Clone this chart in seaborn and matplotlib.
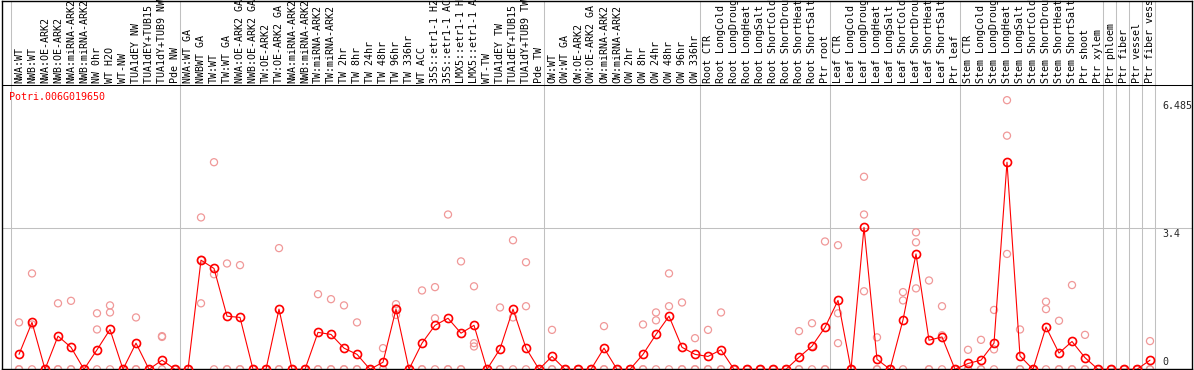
import seaborn as sns
import matplotlib.pyplot as plt
import pandas as pd
import numpy as np

# sample names, in plotting order
samples = [
    "NWA:WT", "NWB:WT", "NWA:OE-ARK2", "NWB:OE-ARK2", "NWA:miRNA-ARK2", "NWB:miRNA-ARK2",
    "NW 0hr", "WT H2O", "WT-NW", "TUA1dEY NW", "TUA1dEY+TUB15 NW", "TUA1dY+TUB9 NW", "Pde NW",
    "NWA:WT GA", "NWBWT GA", "TW:WT", "TW:WT GA", "NWA:OE-ARK2 GA", "NWB:OE-ARK2 GA",
    "TW:OE-ARK2", "TW:OE-ARK2 GA", "NWA:miRNA-ARK2", "NWB:miRNA-ARK2", "TW:miRNA-ARK2",
    "TW:miRNA-ARK2", "TW 2hr", "TW 8hr", "TW 24hr", "TW 48hr", "TW 96hr", "TW 336hr", "WT ACC",
    "35S::etr1-1 H2O", "35S::etr1-1 ACC", "LMX5::etr1-1 H2O", "LMX5::etr1-1 ACC", "WT-TW",
    "TUA1dEY TW", "TUA1dEY+TUB15 TW", "TUA1dY+TUB9 TW", "Pde TW",
    "OW:WT", "OW:WT GA", "OW:OE-ARK2", "OW:OE-ARK2 GA", "OW:miRNA-ARK2", "OW:miRNA-ARK2",
    "OW 2hr", "OW 8hr", "OW 24hr", "OW 48hr", "OW 96hr", "OW 336hr",
    "Root CTR", "Root LongCold", "Root LongDrought", "Root LongHeat", "Root LongSalt",
    "Root ShortCold", "Root ShortDrought", "Root ShortHeat", "Root ShortSalt", "Ptr root",
    "Leaf CTR", "Leaf LongCold", "Leaf LongDrought", "Leaf LongHeat", "Leaf LongSalt",
    "Leaf ShortCold", "Leaf ShortDrought", "Leaf ShortHeat", "Leaf ShortSalt", "Ptr leaf",
    "Stem CTR", "Stem LongCold", "Stem LongDrought", "Stem LongHeat", "Stem LongSalt",
    "Stem ShortCold", "Stem ShortDrought", "Stem ShortHeat", "Stem ShortSalt", "Ptr shoot",
    "Ptr xylem", "Ptr phloem", "Ptr fiber", "Ptr vessel", "Ptr fiber vessel",
]
# index of first sample of each group (plus the end)
group_starts = [0, 13, 41, 53, 63, 73, 84, 85, 86, 87, 88]

means = [
    0.36, 1.13, 0, 0.80, 0.53, 0, 0.47, 0.96, 0, 0.63, 0, 0.22, 0,
    0, 2.63, 2.43, 1.28, 1.25, 0, 0, 1.45, 0, 0, 0.89, 0.84, 0.51, 0.36, 0, 0.17,
    1.45, 0, 0.63, 1.06, 1.23, 0.87, 1.06, 0, 0.49, 1.45, 0.51, 0,
    0.31, 0, 0, 0, 0.51, 0, 0, 0.36, 0.84, 1.28, 0.53, 0.36,
    0.31, 0.47, 0, 0, 0, 0, 0, 0.29, 0.56, 1.01,
    1.66, 0, 3.42, 0.24, 0, 1.19, 2.78, 0.70, 0.78, 0,
    0.14, 0.22, 0.63, 4.99, 0.32, 0, 1.02, 0.39, 0.67, 0.28, 0,
    0, 0, 0, 0.22,
]
rep1 = [
    1.13, 2.31, 0, 1.59, 1.65, 0, 1.35, 1.54, 0, 1.25, 0, 0.80, 0,
    0, 3.66, 4.99, 2.55, 2.51, 0, 0, 2.92, 0, 0, 1.81, 1.69, 1.54, 1.13, 0, 0.51,
    1.57, 0, 1.90, 1.98, 3.73, 2.60, 2.00, 0, 1.49, 3.11, 2.58, 0,
    0.95, 0, 0, 0, 1.04, 0, 0, 1.08, 1.37, 2.31, 1.61, 0.75,
    0.95, 1.37, 0, 0, 0, 0, 0, 0.92, 1.11, 3.08,
    2.99, 0, 4.64, 0.77, 0, 1.86, 3.30, 2.14, 1.52, 0,
    0.47, 0.71, 1.43, 6.485, 0.96, 0, 1.63, 1.17, 2.03, 0.83, 0,
    0, 0, 0, 0.68,
]
rep2 = [
    0, 1.08, 0, 0, 0, 0, 0.96, 1.37, 0, 0, 0, 0.78, 0,
    0, 1.59, 2.29, 0, 0, 0, 0, 0, 0, 0, 0, 0, 0, 0, 0, 0,
    1.31, 0, 0, 1.23, 0, 0, 0.63, 0, 0, 1.25, 1.52, 0,
    0, 0, 0, 0, 0, 0, 0, 0, 1.18, 1.52, 0, 0,
    0, 0, 0, 0, 0, 0, 0, 0, 0.56, 0,
    1.35, 0, 3.73, 0, 0, 1.66, 3.06, 0, 0.82, 0,
    0, 0, 0.48, 5.63, 0, 0, 1.45, 0, 0, 0, 0,
    0, 0, 0, 0,
]
rep3 = [
    0, 0, 0, 0, 0, 0, 0, 0, 0, 0, 0, 0, 0,
    0, 2.64, 0, 0, 0, 0, 0, 0, 0, 0, 0, 0, 0, 0, 0, 0,
    1.47, 0, 0, 0, 0, 0, 0.55, 0, 0, 0, 0, 0,
    0, 0, 0, 0, 0, 0, 0, 0, 0, 0, 0, 0,
    0, 0, 0, 0, 0, 0, 0, 0, 0, 0,
    0.63, 0, 1.88, 0, 0, 0, 1.95, 0, 0, 0,
    0, 0, 0, 2.78, 0, 0, 0, 0, 0, 0, 0,
    0, 0, 0, 0,
]
y_ticks = [6.485, 3.4, 0]
gene = "Potri.006G019650"

n = len(samples)
pos = np.arange(n)
rep_df = pd.DataFrame({
    "pos": np.concatenate([pos, pos, pos]),
    "value": rep1 + rep2 + rep3,
})

sns.set_style("white")
plt.rcParams["font.family"] = ["DejaVu Sans Mono"]
fsize = 7.2

W, H = 1194, 370
fig = plt.figure(figsize=(W / 100, H / 100), dpi=100)
# axes fills the figure; px = 19 + 13 * x, py = 369.3 - 41.5 * y
ax = fig.add_axes([1.5 / W, 0.7 / H, (1192 - 1.5) / W, (369.5 - 0.7) / H])
ax.set_xlim((1.5 - 19) / 13, (1192 - 19) / 13)
ax.set_ylim(0, (369.3 - 0.5) / 41.5)
header_y = (369.3 - 85) / 41.5

grey = "#c0c0c0"
for k in group_starts:
    ax.axvline(k - 0.62, color=grey, lw=0.75, zorder=1)
ax.axhline(3.4, color=grey, lw=0.75, zorder=1)
ax.axhline(header_y, color="black", lw=0.75, zorder=1)

sns.scatterplot(data=rep_df, x="pos", y="value", ax=ax, marker="o", s=26,
                color="#f09898", linewidth=0.9, zorder=2, legend=False)
ax.collections[-1].set_facecolor("none")
ax.collections[-1].set_edgecolor("#f09898")

sns.lineplot(x=pos, y=means, ax=ax, color="red", lw=0.8, marker="o", ms=5.8,
             mfc="none", mec="red", mew=1.2, zorder=3)

# the header only has room for 14 characters, long names are cut like the original
for i, name in enumerate(samples):
    ax.text(i, (369.3 - 83) / 41.5, name[:14], rotation=90, ha="center", va="bottom",
            fontsize=fsize, color="black", clip_on=False)

ax.text((9.3 - 19) / 13, (369.3 - 96.7) / 41.5, gene, color="red", fontsize=fsize,
        ha="left", va="center")

xl = (1162 - 19) / 13
for t in y_ticks:
    if t == 0:
        ax.text(xl, t + 0.06, "0", fontsize=fsize, ha="left", va="bottom")
    else:
        ax.text(xl, t - 0.02, f"{t:g}", fontsize=fsize, ha="left", va="top")

ax.set_xlabel("")
ax.set_ylabel("")
ax.set_xticks([])
ax.set_yticks([])
for s in ax.spines.values():
    s.set_visible(True)
    s.set_color("black")
    s.set_linewidth(1.0)

fig.savefig("out.png", dpi=100)
